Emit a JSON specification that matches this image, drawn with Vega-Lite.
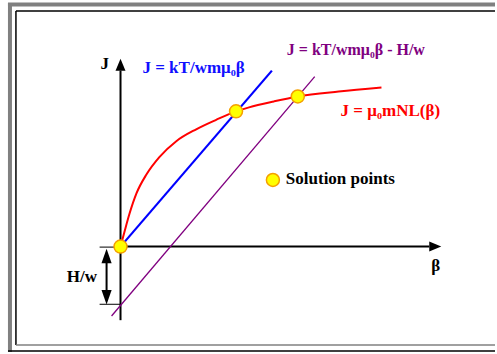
{
  "$schema": "https://vega.github.io/schema/vega-lite/v6.json",
  "width": 497,
  "height": 354,
  "padding": 0,
  "autosize": {"type": "fit", "contains": "padding"},
  "background": "white",
  "config": {"view": {"stroke": null}},
  "datasets": {
    "grayBand": [
      {"x": -11.1, "y": 24.5, "x2": -11.1, "y2": -10.6},
      {"x": -11.3, "y": 24.35, "x2": 37.6, "y2": 24.35}
    ],
    "blackFrame": [
      {"x": -10.5, "y": 23.7, "x2": -10.5, "y2": -9.9},
      {"x": -10.5, "y": 23.7, "x2": 37.6, "y2": 23.7},
      {"x": -11.3, "y": -10.5, "x2": 37.6, "y2": -10.5}
    ],
    "grayLine": [
      {"x": -10.5, "y": -9.9, "x2": 37.6, "y2": -9.9}
    ],
    "axes": [
      {"x": 0, "y": 0, "x2": 31.0, "y2": 0},
      {"x": 0, "y": 17.7, "x2": 0, "y2": -7.4},
      {"x": -1.4, "y": -1.6, "x2": -1.4, "y2": -4.6}
    ],
    "ticks": [
      {"x": -2.1, "y": -0.05, "x2": 0, "y2": -0.05},
      {"x": -2.1, "y": -5.8, "x2": 0, "y2": -5.8}
    ],
    "arrowRight": [{"x": 31.6, "y": 0}],
    "arrowUpAxis": [{"x": 0, "y": 18.3}],
    "arrowUpHw": [{"x": -1.4, "y": -0.95}],
    "arrowDownHw": [{"x": -1.4, "y": -5.1}],
    "blueLine": [{"x": 0, "y": 0, "x2": 15.2, "y2": 17.7}],
    "purpleLine": [{"x": -0.9, "y": -6.98, "x2": 19.5, "y2": 17.1}],
    "curve": [
      {"x": 0, "y": 0},
      {"x": 0.4, "y": 1.5},
      {"x": 0.9, "y": 3.3},
      {"x": 1.6, "y": 5.35},
      {"x": 2.6, "y": 7.25},
      {"x": 3.9, "y": 9.0},
      {"x": 5.6, "y": 10.6},
      {"x": 7.6, "y": 11.8},
      {"x": 9.6, "y": 12.75},
      {"x": 11.6, "y": 13.6},
      {"x": 12.9, "y": 14.0},
      {"x": 15.4, "y": 14.6},
      {"x": 17.8, "y": 15.1},
      {"x": 21.9, "y": 15.6},
      {"x": 26.2, "y": 16.0}
    ],
    "solutions": [
      {"x": 0, "y": 0},
      {"x": 11.6, "y": 13.6},
      {"x": 17.8, "y": 15.1},
      {"x": 15.3, "y": 6.7}
    ],
    "blackLabels": [
      {"text": "J", "x": -2.0, "y": 17.9},
      {"text": "β", "x": 31.2, "y": -2.5},
      {"text": "H/w", "x": -5.4, "y": -3.6},
      {"text": "Solution points", "x": 16.6, "y": 6.3}
    ],
    "blueLabels": [{"text": "J = kT/wmμ₀β", "x": 2.2, "y": 17.5}],
    "purpleLabels": [{"text": "J = kT/wmμ₀β - H/w", "x": 16.7, "y": 19.3}],
    "redLabels": [{"text": "J = μ₀mNL(β)", "x": 22.1, "y": 13.1}]
  },
  "encoding": {
    "x": {"field": "x", "type": "quantitative", "scale": {"domain": [-12.1, 37.6], "nice": false, "zero": false}, "axis": null},
    "y": {"field": "y", "type": "quantitative", "scale": {"domain": [-10.6, 24.8], "nice": false, "zero": false}, "axis": null}
  },
  "layer": [
    {
      "data": {"name": "grayBand"},
      "mark": {"type": "rule", "color": "#808080", "strokeWidth": 4},
      "encoding": {"x2": {"field": "x2"}, "y2": {"field": "y2"}}
    },
    {
      "data": {"name": "blackFrame"},
      "mark": {"type": "rule", "color": "#000000", "strokeWidth": 1.5},
      "encoding": {"x2": {"field": "x2"}, "y2": {"field": "y2"}}
    },
    {
      "data": {"name": "grayLine"},
      "mark": {"type": "rule", "color": "#808080", "strokeWidth": 1.5},
      "encoding": {"x2": {"field": "x2"}, "y2": {"field": "y2"}}
    },
    {
      "data": {"name": "ticks"},
      "mark": {"type": "rule", "color": "#000000", "strokeWidth": 1},
      "encoding": {"x2": {"field": "x2"}, "y2": {"field": "y2"}}
    },
    {
      "data": {"name": "axes"},
      "mark": {"type": "rule", "color": "#000000", "strokeWidth": 2},
      "encoding": {"x2": {"field": "x2"}, "y2": {"field": "y2"}}
    },
    {
      "data": {"name": "arrowRight"},
      "mark": {"type": "point", "filled": true, "color": "#000000", "opacity": 1, "size": 144, "shape": "M-1,-0.83L1,0L-1,0.83Z"}
    },
    {
      "data": {"name": "arrowUpAxis"},
      "mark": {"type": "point", "filled": true, "color": "#000000", "opacity": 1, "size": 144, "shape": "M-0.83,1L0,-1L0.83,1Z"}
    },
    {
      "data": {"name": "arrowUpHw"},
      "mark": {"type": "point", "filled": true, "color": "#000000", "opacity": 1, "size": 210, "shape": "M-0.7,1L0,-1L0.7,1Z"}
    },
    {
      "data": {"name": "arrowDownHw"},
      "mark": {"type": "point", "filled": true, "color": "#000000", "opacity": 1, "size": 210, "shape": "M-0.7,-1L0,1L0.7,-1Z"}
    },
    {
      "data": {"name": "blueLine"},
      "mark": {"type": "rule", "color": "#0000FF", "strokeWidth": 2.2},
      "encoding": {"x2": {"field": "x2"}, "y2": {"field": "y2"}}
    },
    {
      "data": {"name": "purpleLine"},
      "mark": {"type": "rule", "color": "#800080", "strokeWidth": 1.3},
      "encoding": {"x2": {"field": "x2"}, "y2": {"field": "y2"}}
    },
    {
      "data": {"name": "curve"},
      "mark": {"type": "line", "color": "#FF0000", "strokeWidth": 2, "interpolate": "monotone"},
      "encoding": {"order": {"field": "x", "type": "quantitative"}}
    },
    {
      "data": {"name": "solutions"},
      "mark": {"type": "point", "shape": "circle", "filled": true, "fill": "#FFFF00", "stroke": "#F5A000", "strokeWidth": 1.5, "opacity": 1, "size": 169}
    },
    {
      "data": {"name": "blackLabels"},
      "mark": {"type": "text", "align": "left", "baseline": "alphabetic", "font": "Liberation Serif", "fontWeight": "bold", "fontSize": 17, "color": "#000000"},
      "encoding": {"text": {"field": "text"}}
    },
    {
      "data": {"name": "blueLabels"},
      "mark": {"type": "text", "align": "left", "baseline": "alphabetic", "font": "Liberation Serif", "fontWeight": "bold", "fontSize": 17, "color": "#1010FF"},
      "encoding": {"text": {"field": "text"}}
    },
    {
      "data": {"name": "purpleLabels"},
      "mark": {"type": "text", "align": "left", "baseline": "alphabetic", "font": "Liberation Serif", "fontWeight": "bold", "fontSize": 16, "color": "#800080"},
      "encoding": {"text": {"field": "text"}}
    },
    {
      "data": {"name": "redLabels"},
      "mark": {"type": "text", "align": "left", "baseline": "alphabetic", "font": "Liberation Serif", "fontWeight": "bold", "fontSize": 17, "color": "#FF0000"},
      "encoding": {"text": {"field": "text"}}
    }
  ]
}
